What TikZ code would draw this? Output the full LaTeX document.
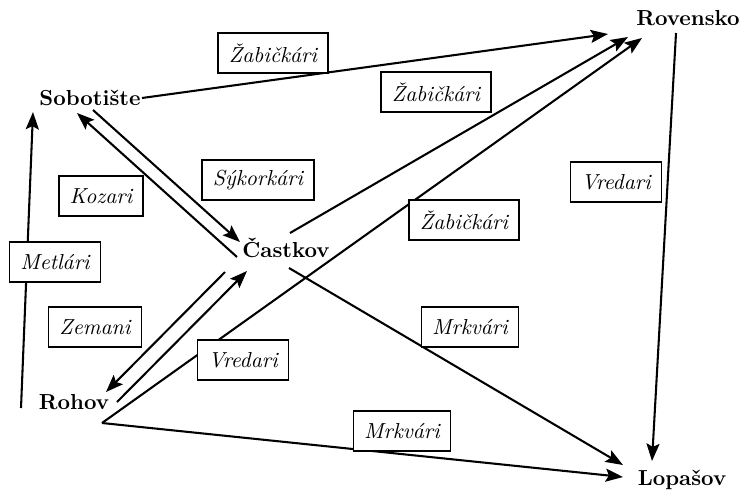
\documentclass[tikz,border=0pt]{standalone}
\usetikzlibrary{arrows.meta}
\begin{document}
\begin{tikzpicture}[x=0.46pt,y=-0.46pt,
  place/.style={font=\bfseries, inner sep=1pt},
  lab/.style={draw, fill=white, font=\itshape, inner xsep=5pt, minimum height=18.4pt, line width=0.65pt},
  conn/.style={line width=0.95pt},
  arr/.style={conn,-{Stealth[length=8pt,width=6pt,inset=1.5pt]}}]
\useasboundingbox (0,0) rectangle (745,490);
% places
\node[place] (rov) at (688,18) {Rovensko};
\node[place] (sob) at (90,98) {Sobotište};
\node[place] (cas) at (286,248) {Častkov};
\node[place] (roh) at (74,402) {Rohov};
\node[place] (lop) at (682,480) {Lopašov};
% connector end points
\coordinate (sobE) at (142,98);
\coordinate (rovT1) at (608,34);
\coordinate (casNE) at (290,233);
\coordinate (rovT2) at (628,37);
\coordinate (rohC) at (102,423);
\coordinate (rovT3) at (642,38);
\coordinate (rovS) at (676,33);
\coordinate (lopT1) at (652,461);
\coordinate (casSE) at (289,268);
\coordinate (lopT2) at (623,465);
\coordinate (lopT3) at (623,477);
\coordinate (metB) at (21,408);
\coordinate (sobT) at (33,112);
\coordinate (casW1) at (237,257);
\coordinate (sobT2) at (77,113);
\coordinate (sobS) at (93,110);
\coordinate (casT) at (240,242);
\coordinate (casSW) at (225,272);
\coordinate (rohT) at (106,392);
\coordinate (rohE) at (117,402);
\coordinate (casT2) at (247,271);
% connectors
\draw[arr] (sobE) -- (rovT1);
\draw[arr] (casNE) -- (rovT2);
\draw[arr] (rohC) -- (rovT3);
\draw[arr] (rovS) -- (lopT1);
\draw[arr] (casSE) -- (lopT2);
\draw[arr] (rohC) -- (lopT3);
\draw[arr] (metB) -- (sobT);
\draw[arr] (casW1) -- (sobT2);
\draw[arr] (sobS) -- (casT);
\draw[arr] (casSW) -- (rohT);
\draw[arr] (rohE) -- (casT2);
% labels
\node[lab] (l1) at (273,53) {Žabičkári};
\node[lab] (l2) at (436,92) {Žabičkári};
\node[lab] (l3) at (258,180) {Sýkorkári};
\node[lab] (l4) at (101,196) {Kozari};
\node[lab] (l5) at (55,262) {Metlári};
\node[lab] (l6) at (95,327) {Zemani};
\node[lab] (l7) at (243,360) {Vredari};
\node[lab] (l8) at (464,220) {Žabičkári};
\node[lab] (l9) at (616,182) {Vredari};
\node[lab] (l10) at (470,327) {Mrkvári};
\node[lab] (l11) at (402,431) {Mrkvári};
\end{tikzpicture}
\end{document}
